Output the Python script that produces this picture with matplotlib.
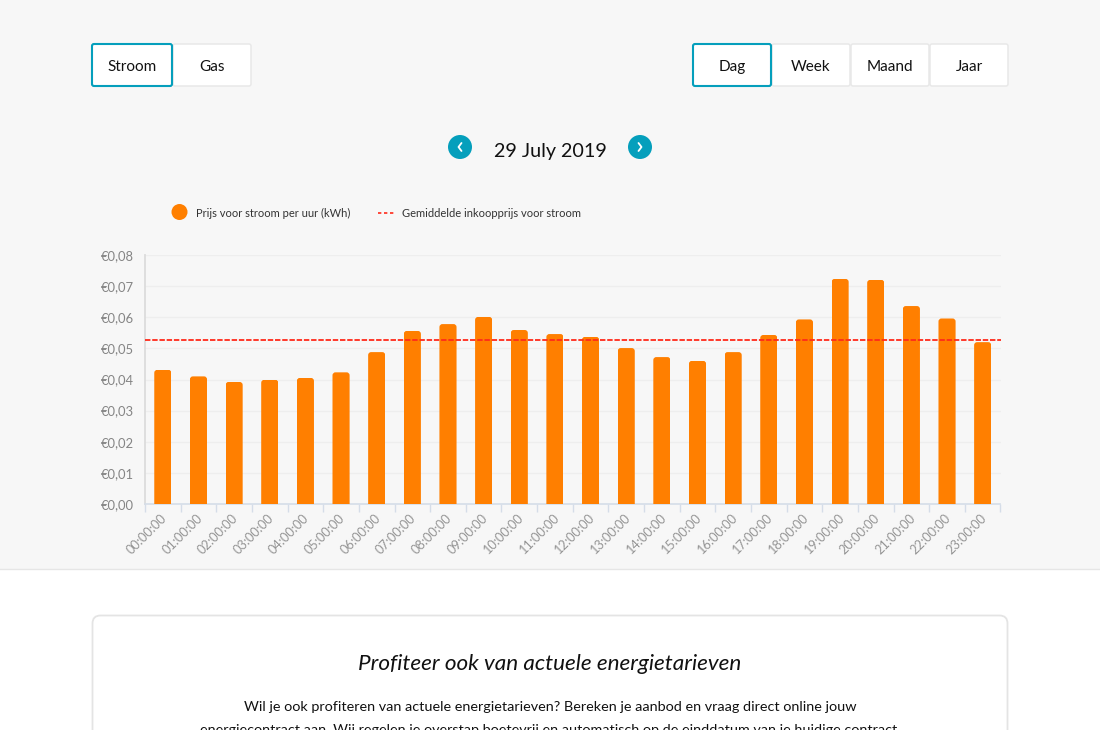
import matplotlib
matplotlib.use("Agg")
import matplotlib.pyplot as plt
from matplotlib.patches import FancyBboxPatch, Rectangle, Circle
from matplotlib.lines import Line2D
from matplotlib.transforms import ScaledTranslation

plt.rcParams['font.family'] = ['Lato', 'DejaVu Sans']

hours = ["00:00:00","01:00:00","02:00:00","03:00:00","04:00:00","05:00:00","06:00:00","07:00:00",
         "08:00:00","09:00:00","10:00:00","11:00:00","12:00:00","13:00:00","14:00:00","15:00:00",
         "16:00:00","17:00:00","18:00:00","19:00:00","20:00:00","21:00:00","22:00:00","23:00:00"]
prices = [.0431,.0410,.0392,.0399,.0405,.0423,.0488,.0556,.0578,.0601,.0559,.0546,
          .0537,.0501,.0472,.0460,.0488,.0543,.0593,.0723,.0720,.0636,.0596,.0520]
average = 0.0527
y_ticks = [0,.01,.02,.03,.04,.05,.06,.07,.08]
y_labels = ["€0,00","€0,01","€0,02","€0,03","€0,04","€0,05","€0,06","€0,07","€0,08"]

W, H = 1100, 730
BG = "#f7f7f7"
TEAL = "#059fbc"
fig = plt.figure(figsize=(W/100, H/100), dpi=100, facecolor="white")

# page overlay in pixel coordinates
pg = fig.add_axes([0, 0, 1, 1], zorder=0)
pg.set_xlim(0, W); pg.set_ylim(H, 0); pg.axis("off")
pg.add_patch(Rectangle((0, 0), W, 569, fc=BG, ec="none"))
pg.plot([0, W], [569, 569], color="#e6e6e6", lw=1)

def button(x0, x1, label, active=False, z=2):
    y0, y1 = 44, 86
    pg.add_patch(FancyBboxPatch((x0+1, y0), x1-x0-2, y1-y0, boxstyle="round,pad=0,rounding_size=2",
                                fc="white", ec=TEAL if active else "#e8e8e8",
                                lw=1.5 if active else 1.1, zorder=z+1 if active else z))
    pg.text((x0+x1)/2, 65.5, label, ha="center", va="center_baseline", fontsize=11,
            color="#111111", zorder=5)

button(172, 252, "Gas")
button(91, 173, "Stroom", True)
button(771, 851, "Week")
button(850, 930, "Maand")
button(929, 1009, "Jaar")
button(692, 772, "Dag", True)

for cx, d in ((460, -1), (640, 1)):
    pg.add_patch(Circle((cx, 147), 12, fc=TEAL, ec="none"))
    pg.plot([cx-d*1.5, cx+d*1.5, cx-d*1.5], [143, 147, 151], color="white", lw=1.3,
            solid_capstyle="round", solid_joinstyle="round")
pg.text(550, 150, "29 July 2019", ha="center", va="center_baseline", fontsize=14.2, color="#111111")

# legend
pg.add_patch(Circle((179.5, 212), 8, fc="#ff7f00", ec="none"))
pg.text(196, 212.3, "Prijs voor stroom per uur (kWh)", ha="left", va="center_baseline", fontsize=8.0, color="#333333")
pg.add_line(Line2D([378, 395], [212.5, 212.5], color="#ff2a1a", lw=1.2, dashes=(2, 1.6)))
pg.text(402, 212.3, "Gemiddelde inkoopprijs voor stroom", ha="left", va="center_baseline", fontsize=8.05, color="#333333")

# card
pg.add_patch(FancyBboxPatch((92.5, 615.5), 915, 200, boxstyle="round,pad=0,rounding_size=8",
                            fc="white", ec="#e4e4e4", lw=1.3, clip_on=True))
pg.text(550, 662.5, "Profiteer ook van actuele energietarieven", ha="center", va="center_baseline",
        fontsize=16.2, style="italic", color="#111111")
pg.text(550, 706, "Wil je ook profiteren van actuele energietarieven? Bereken je aanbod en vraag direct online jouw",
        ha="center", va="center_baseline", fontsize=10.4, color="#111111")
pg.text(550, 729, "energiecontract aan. Wij regelen je overstap boetevrij en automatisch op de einddatum van je huidige contract.",
        ha="center", va="center_baseline", fontsize=10.4, color="#111111")

# chart
ax = fig.add_axes([145/W, 1-504/H, 855.5/W, 249/H], zorder=1)
ax.patch.set_alpha(0)
x = list(range(len(hours)))
bar_w = 0.48
bars = ax.bar(x, prices, width=bar_w, color="#ff7f00", zorder=3)
ax.set_xlim(-0.5, 23.5)
ax.set_ylim(0, 0.08)
# rounded tops
ux = 855.5/24; uy = 249/0.08
r = 3.0/ux
for b, xi, p in zip(bars, x, prices):
    clip = FancyBboxPatch((xi-bar_w/2, -0.01), bar_w, p+0.01,
                          boxstyle=f"round,pad=0,rounding_size={r}",
                          mutation_aspect=(ux/uy), transform=ax.transData)
    b.set_clip_path(clip)
ax.axhline(average, color="#ff2a1a", lw=1.3, dashes=(3, 1), zorder=4)

ax.set_yticks(y_ticks)
ax.set_yticklabels(y_labels, fontsize=9.4, color="#858585")
ax.yaxis.grid(True, color="#eeeeee", lw=1, zorder=0)
ax.tick_params(axis="y", length=0, pad=8)
ax.set_xticks(x)
ax.set_xticklabels(hours, rotation=45, ha="right", rotation_mode="anchor",
                   fontsize=9.2, color="#959595")
ax.tick_params(axis="x", length=0, pad=6)
shift = ScaledTranslation(-2.5/72*0.72*1.0, 0, fig.dpi_scale_trans)
for lab in ax.get_xticklabels():
    lab.set_transform(lab.get_transform() + ScaledTranslation(-0.025, 0, fig.dpi_scale_trans))
ax.set_xticks([i-0.5 for i in range(len(hours)+1)], minor=True)
ax.tick_params(axis="x", which="minor", length=6, width=1, color="#d5dde8")
for s in ("top", "right"):
    ax.spines[s].set_visible(False)
ax.spines["left"].set_color("#dcdcdc"); ax.spines["left"].set_linewidth(1.3)
ax.spines["bottom"].set_color("#d5dde8"); ax.spines["bottom"].set_linewidth(1.2)

fig.savefig("out.png", dpi=100, facecolor="white")
